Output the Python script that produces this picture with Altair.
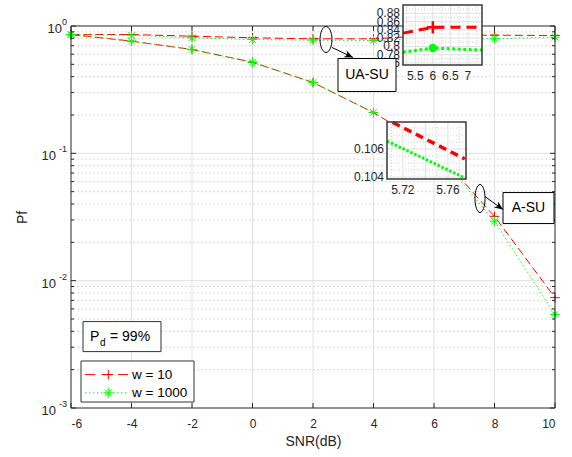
import altair as alt
import pandas as pd

# ---------------- data ----------------
snr = [-6, -4, -2, 0, 2, 4, 6, 8, 10]
ua_w10 = [0.857, 0.857, 0.832, 0.808, 0.793, 0.793, 0.846, 0.847, 0.842]
ua_w1000 = [0.857, 0.847, 0.808, 0.783, 0.774, 0.770, 0.796, 0.793, 0.817]
asu_w10 = [0.857, 0.760, 0.654, 0.519, 0.360, 0.209, 0.1085, 0.0320, 0.00736]
asu_w1000 = [0.857, 0.760, 0.654, 0.519, 0.360, 0.209, 0.1070, 0.0293, 0.00542]

x_ticks = [-6, -4, -2, 0, 2, 4, 6, 8, 10]
y_major = [0.001, 0.01, 0.1, 1]
y_exp = ["-3", "-2", "-1", "0"]
y_minor = [m * 10.0 ** e for e in (-3, -2, -1) for m in range(2, 10)]

# zoom inset 1 (UA-SU around SNR = 6 dB)
in1_x = [5.15, 6.0, 7.4]
in1_w10 = [0.832, 0.846, 0.846]
in1_w1000 = [0.786, 0.796, 0.791]
in1_mark_x = [6.0]
in1_mark_w10 = [0.846]
in1_mark_w1000 = [0.796]
in1_xticks = [5.5, 6.0, 6.5, 7.0]
in1_xlabels = ["5.5", "6", "6.5", "7"]
in1_yticks = [0.76, 0.78, 0.80, 0.82, 0.84, 0.86, 0.88]
in1_ylabels = ["0.76", "0.78", "0.8", "0.82", "0.84", "0.86", "0.88"]
in1_xminor = [5.25, 5.75, 6.25, 6.75, 7.25]
in1_yminor = [0.77, 0.79, 0.81, 0.83, 0.85, 0.87, 0.89]

# zoom inset 2 (A-SU around SNR = 5.74 dB)
in2_x_w10 = [5.711, 5.775]
in2_w10 = [0.1079, 0.10529]
in2_x_w1000 = [5.706, 5.776]
in2_w1000 = [0.10657, 0.1039]
in2_xticks = [5.72, 5.74, 5.76]
in2_xlabels = ["5.72", "", "5.76"]
in2_yticks = [0.104, 0.106]
in2_ylabels = ["0.104", "0.106"]
in2_xminor = [5.71, 5.73, 5.75, 5.77]
in2_yminor = [0.1045, 0.105, 0.1055, 0.1065, 0.107, 0.1075]

# ---------------- styling ----------------
FONT = "Liberation Sans"
AX = "#262626"
RED = "#ff0000"
GREEN = "#00ff00"
GRID = "#e1e1e1"
MINOR = "#cfcfcf"
W, H = 484, 382

PLUS = "M-1,0L1,0M0,-1L0,1"
STAR = "M-1,0L1,0M0,-1L0,1M-0.7,-0.7L0.7,0.7M-0.7,0.7L0.7,-0.7"
HEAD = "M0,0L-1,-0.42L-0.72,0L-1,0.42Z"


def ellipse(rx):
    k = 0.5523
    return (f"M0,-1C{k*rx:.3f},-1 {rx:.3f},{-k} {rx:.3f},0"
            f"C{rx:.3f},{k} {k*rx:.3f},1 0,1"
            f"C{-k*rx:.3f},1 {-rx:.3f},{k} {-rx:.3f},0"
            f"C{-rx:.3f},{-k} {-k*rx:.3f},-1 0,-1Z")


main_x = alt.Scale(domain=[-6, 10], nice=False, zero=False)
main_y = alt.Scale(type="log", domain=[0.001, 1], nice=False)
s1x = alt.Scale(domain=[5.15, 7.4], range=[332, 411], nice=False, zero=False)
s1y = alt.Scale(domain=[0.755, 0.9], range=[39, -21], nice=False, zero=False)
s2x = alt.Scale(domain=[5.706, 5.776], range=[316, 395], nice=False, zero=False)
s2y = alt.Scale(domain=[0.10386, 0.10793], range=[153, 96], nice=False, zero=False)

one = pd.DataFrame({"k": [0]})

MXd = lambda v: alt.XDatum(v, type="quantitative", scale=main_x, axis=None)
MYd = lambda v: alt.YDatum(v, type="quantitative", scale=main_y, axis=None)
MX = lambda f: alt.X(f, type="quantitative", scale=main_x, axis=None)
MY = lambda f: alt.Y(f, type="quantitative", scale=main_y, axis=None)

# ---------------- axes (own layer) ----------------
xax = alt.Axis(orient="bottom", values=x_ticks, title="SNR(dB)", grid=False, ticks=False,
               domain=False, labelFontSize=12, labelPadding=10, labelColor=AX, labelFont=FONT,
               labelExpr="datum.value < 0 ? '-' + abs(datum.value) : '' + datum.value",
               titleFontSize=14, titleFont=FONT, titleColor=AX, titleFontWeight="normal",
               titlePadding=5)
yax = alt.Axis(orient="left", title="Pf", labels=False, ticks=False, domain=False, grid=False,
               titleFontSize=14, titleFont=FONT, titleColor=AX, titleFontWeight="normal",
               titlePadding=42)
axes_layer = alt.Chart(pd.DataFrame({"x": [-6, 10], "y": [0.001, 1]})).mark_point(
    opacity=0, size=1).encode(
    x=alt.X("x:Q", scale=main_x, axis=xax),
    y=alt.Y("y:Q", scale=main_y, axis=yax))

# ---------------- main panel ----------------
df = pd.DataFrame({
    "snr": snr * 4,
    "pf": ua_w10 + ua_w1000 + asu_w10 + asu_w1000,
    "w": ["10"] * 9 + ["1000"] * 9 + ["10"] * 9 + ["1000"] * 9,
    "grp": ["UA"] * 18 + ["A"] * 18,
})
d10 = df[df.w == "10"]
d1000 = df[df.w == "1000"]

grid_minor = alt.Chart(pd.DataFrame({"v": y_minor})).mark_rule(
    color=MINOR, strokeWidth=1, strokeDash=[1.5, 2.5]).encode(y=MY("v"))
grid_x = alt.Chart(pd.DataFrame({"v": x_ticks[1:-1]})).mark_rule(
    color=GRID, strokeWidth=1).encode(x=MX("v"))
grid_y = alt.Chart(pd.DataFrame({"v": [0.01, 0.1]})).mark_rule(
    color=GRID, strokeWidth=1).encode(y=MY("v"))

line10 = alt.Chart(d10).mark_line(color=RED, strokeWidth=1, strokeDash=[8, 4]).encode(
    x=MX("snr"), y=MY("pf"), detail="grp:N")
line1000 = alt.Chart(d1000).mark_line(color=GREEN, strokeWidth=1, strokeDash=[1.5, 2.5]).encode(
    x=MX("snr"), y=MY("pf"), detail="grp:N")
pts10 = alt.Chart(d10).mark_point(shape=PLUS, size=90, filled=False, color=RED,
                                  strokeWidth=1, opacity=1).encode(x=MX("snr"), y=MY("pf"))
pts1000 = alt.Chart(d1000).mark_point(shape=STAR, size=90, filled=False, color=GREEN,
                                      strokeWidth=1, opacity=1).encode(x=MX("snr"), y=MY("pf"))

frame = alt.Chart(one).mark_rect(fillOpacity=0, stroke=AX, strokeWidth=1).encode(
    x=MXd(-6), x2=alt.X2Datum(10), y=MYd(0.001), y2=alt.Y2Datum(1))

xt = pd.DataFrame({"v": x_ticks})
tick_xb = alt.Chart(xt).mark_rule(color=AX).encode(x=MX("v"), y=alt.value(H), y2=alt.value(H - 5))
tick_xt = alt.Chart(xt).mark_rule(color=AX).encode(x=MX("v"), y=alt.value(0), y2=alt.value(5))
ymj = pd.DataFrame({"v": y_major, "e": y_exp})
ymn = pd.DataFrame({"v": y_minor})
tick_yl = alt.Chart(ymj).mark_rule(color=AX).encode(y=MY("v"), x=alt.value(0), x2=alt.value(5))
tick_yr = alt.Chart(ymj).mark_rule(color=AX).encode(y=MY("v"), x=alt.value(W), x2=alt.value(W - 5))
tick_yml = alt.Chart(ymn).mark_rule(color=AX).encode(y=MY("v"), x=alt.value(0), x2=alt.value(3))
tick_ymr = alt.Chart(ymn).mark_rule(color=AX).encode(y=MY("v"), x=alt.value(W), x2=alt.value(W - 3))

ylab_exp = alt.Chart(ymj).mark_text(align="right", baseline="middle", fontSize=9,
                                    font=FONT, color=AX, dy=-4).encode(
    y=MY("v"), x=alt.value(-4), text="e:N")
ylab_base0 = alt.Chart(ymj).transform_filter("datum.v == 1").mark_text(
    align="right", baseline="middle", fontSize=13, font=FONT, color=AX, dy=3).encode(
    y=MY("v"), x=alt.value(-9), text=alt.value("10"))
ylab_base = alt.Chart(ymj).transform_filter("datum.v < 1").mark_text(
    align="right", baseline="middle", fontSize=13, font=FONT, color=AX, dy=3).encode(
    y=MY("v"), x=alt.value(-15), text=alt.value("10"))

main = alt.layer(grid_minor, grid_x, grid_y, line10, line1000, pts10, pts1000,
                 frame, tick_xb, tick_xt, tick_yl, tick_yr, tick_yml, tick_ymr,
                 ylab_exp, ylab_base0, ylab_base)


# ---------------- inset helper ----------------
def inset(sx, sy, xdom, ydom, xmaj, xlab, ymaj, ylab, xmin, ymin, series, marks):
    X = lambda f: alt.X(f, type="quantitative", scale=sx, axis=None)
    Y = lambda f: alt.Y(f, type="quantitative", scale=sy, axis=None)
    Xd = lambda v: alt.XDatum(v, type="quantitative", scale=sx, axis=None)
    Yd = lambda v: alt.YDatum(v, type="quantitative", scale=sy, axis=None)
    box = dict(x=Xd(xdom[0]), x2=alt.X2Datum(xdom[1]), y=Yd(ydom[0]), y2=alt.Y2Datum(ydom[1]))
    layers = [alt.Chart(one).mark_rect(fill="white").encode(**box)]
    layers.append(alt.Chart(pd.DataFrame({"v": xmin})).mark_rule(
        color=MINOR, strokeDash=[1, 2]).encode(x=X("v"), y=Yd(ydom[0]), y2=alt.Y2Datum(ydom[1])))
    layers.append(alt.Chart(pd.DataFrame({"v": ymin})).mark_rule(
        color=MINOR, strokeDash=[1, 2]).encode(y=Y("v"), x=Xd(xdom[0]), x2=alt.X2Datum(xdom[1])))
    layers.append(alt.Chart(pd.DataFrame({"v": xmaj})).mark_rule(color=GRID).encode(
        x=X("v"), y=Yd(ydom[0]), y2=alt.Y2Datum(ydom[1])))
    layers.append(alt.Chart(pd.DataFrame({"v": ymaj})).mark_rule(color=GRID).encode(
        y=Y("v"), x=Xd(xdom[0]), x2=alt.X2Datum(xdom[1])))
    for xs, ys, color, dash, sw in series:
        layers.append(alt.Chart(pd.DataFrame({"x": xs, "y": ys})).mark_line(
            color=color, strokeWidth=sw, strokeDash=dash).encode(x=X("x"), y=Y("y")))
    for xs, ys, color, shape, size, filled in marks:
        layers.append(alt.Chart(pd.DataFrame({"x": xs, "y": ys})).mark_point(
            shape=shape, size=size, filled=filled, color=color, strokeWidth=2.5,
            opacity=1).encode(x=X("x"), y=Y("y")))
    layers.append(alt.Chart(one).mark_rect(fillOpacity=0, stroke="#3a3a3a",
                                           strokeWidth=1.5).encode(**box))
    layers.append(alt.Chart(pd.DataFrame({"v": xmaj, "t": xlab})).mark_text(
        baseline="top", fontSize=12, font=FONT, color=AX, dy=6).encode(
        x=X("v"), y=Yd(ydom[0]), text="t:N"))
    layers.append(alt.Chart(pd.DataFrame({"v": ymaj, "t": ylab})).mark_text(
        align="right", baseline="middle", fontSize=12, font=FONT, color=AX, dx=-3).encode(
        y=Y("v"), x=Xd(xdom[0]), text="t:N"))
    return alt.layer(*layers)


ins1 = inset(s1x, s1y, [5.15, 7.4], [0.755, 0.9], in1_xticks, in1_xlabels,
             in1_yticks, in1_ylabels, in1_xminor, in1_yminor,
             [(in1_x, in1_w10, RED, [10, 6], 3), (in1_x, in1_w1000, GREEN, [3, 2.5], 3)],
             [(in1_mark_x, in1_mark_w10, RED, PLUS, 150, False),
              (in1_mark_x, in1_mark_w1000, GREEN, "circle", 70, True)])
ins2 = inset(s2x, s2y, [5.706, 5.776], [0.10386, 0.10793], in2_xticks, in2_xlabels,
             in2_yticks, in2_ylabels, in2_xminor, in2_yminor,
             [(in2_x_w10, in2_w10, RED, [8, 5], 3.5), (in2_x_w1000, in2_w1000, GREEN, [2.5, 1.8], 3)],
             [])


# ---------------- annotations (main scales) ----------------
def text_at(x, y, s, size=14, align="center", dy=0, color="black"):
    return alt.Chart(one).mark_text(align=align, baseline="middle", fontSize=size,
                                    font=FONT, color=color, dy=dy).encode(
        x=MXd(x), y=MYd(y), text=alt.value(s))


def box_at(x1, x2, y1, y2, stroke="black", sw=1):
    return alt.Chart(one).mark_rect(fill="white", stroke=stroke, strokeWidth=sw).encode(
        x=MXd(x1), x2=alt.X2Datum(x2), y=MYd(y1), y2=alt.Y2Datum(y2))


def arrow(x1, y1, x2, y2, ang):
    r = alt.Chart(one).mark_rule(color="black", strokeWidth=1).encode(
        x=MXd(x1), y=MYd(y1), x2=alt.X2Datum(x2), y2=alt.Y2Datum(y2))
    h = alt.Chart(one).mark_point(shape=HEAD, size=300, filled=True, color="black",
                                  opacity=1, angle=ang).encode(x=MXd(x2), y=MYd(y2))
    return [r, h]


def ell(x, y, rx, size):
    return alt.Chart(one).mark_point(shape=ellipse(rx), size=size, filled=False,
                                     color="black", strokeWidth=1, opacity=1).encode(
        x=MXd(x), y=MYd(y))


ann = [
    ell(2.43, 0.7834, 0.46, 676),
    *arrow(2.628, 0.678, 3.322, 0.5657, 25),
    box_at(2.826, 4.744, 0.3058, 0.5555),
    text_at(3.785, 0.4122, "UA-SU"),
    ell(7.521, 0.04416, 0.36, 784),
    *arrow(7.686, 0.04577, 8.281, 0.03618, 36),
    box_at(8.281, 9.967, 0.02809, 0.04920),
    text_at(9.124, 0.03718, "A-SU"),
    box_at(-5.603, -3.025, 0.002773, 0.004772, stroke="#333333"),
    text_at(-5.372, 0.003639, "P", align="left"),
    text_at(-5.041, 0.003639, "d", size=10, align="left", dy=6),
    text_at(-4.711, 0.003639, "= 99%", align="left"),
    box_at(-5.669, -1.934, 0.001114, 0.002340, stroke="#333333"),
]
leg = pd.DataFrame({"x1": [-5.537, -5.537], "x2": [-4.116, -4.116],
                    "y": [0.00183, 0.001314], "xm": [-4.767, -4.767],
                    "xt": [-3.983, -3.983], "lab": ["w = 10", "w = 1000"]})
legd10, legd1000 = leg.iloc[[0]], leg.iloc[[1]]
ann += [
    alt.Chart(legd10).mark_rule(color=RED, strokeWidth=1, strokeDash=[10, 6.5]).encode(
        x=MX("x1"), x2="x2:Q", y=MY("y")),
    alt.Chart(legd1000).mark_rule(color=GREEN, strokeWidth=1, strokeDash=[1.5, 2.5]).encode(
        x=MX("x1"), x2="x2:Q", y=MY("y")),
    alt.Chart(legd10).mark_point(shape=PLUS, size=90, filled=False, color=RED,
                                 strokeWidth=1, opacity=1).encode(x=MX("xm"), y=MY("y")),
    alt.Chart(legd1000).mark_point(shape=STAR, size=90, filled=False, color=GREEN,
                                   strokeWidth=1, opacity=1).encode(x=MX("xm"), y=MY("y")),
    alt.Chart(leg).mark_text(align="left", baseline="middle", fontSize=13.5, font=FONT,
                             color="black").encode(x=MX("xt"), y=MY("y"), text="lab:N"),
]
annot = alt.layer(*ann)

chart = alt.layer(axes_layer, main, ins1, ins2, annot).resolve_scale(
    x="independent", y="independent"
).properties(
    width=W, height=H,
    padding={"left": 71, "top": 26, "right": 17, "bottom": 49},
    autosize=alt.AutoSizeParams(type="none"),
    background="white",
).configure_view(stroke=None)

chart.save("out.html", embed_options={"renderer": "svg", "actions": False})
